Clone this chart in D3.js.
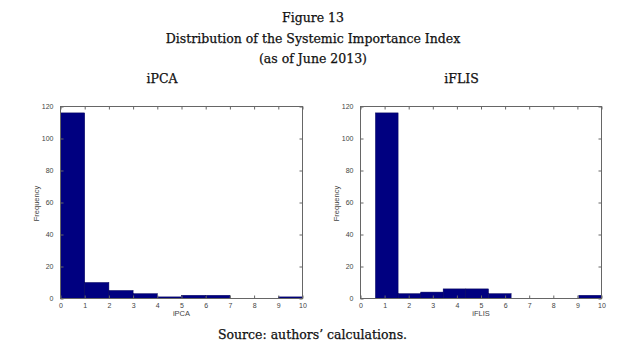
<!DOCTYPE html>
<html><head><meta charset="utf-8">
<script src="https://cdn.jsdelivr.net/npm/d3@7"></script>
<style>body{margin:0;background:#fff}svg{display:block}</style>
</head><body>
<svg id="c" width="635" height="355"></svg>
<script>
const titleLines = ["Figure 13", "Distribution of the Systemic Importance Index", "(as of June 2013)"];
const panelTitles = ["iPCA", "iFLIS"];
const xLabels = ["iPCA", "iFLIS"];
const yLabel = "Frequency";
const sourceText = "Source: authors\u2019 calculations.";
const xTicks = [0,1,2,3,4,5,6,7,8,9,10];
const yTicks = [0,20,40,60,80,100,120];

// iPCA histogram: bin starts, bin end, counts
const ipcaBinStarts = [0,1,2,3,4,5,6,7,8,9];
const ipcaBinEnd = 10;
const ipcaCounts = [116,10,5,3,1,2,2,0,0,1];

// iFLIS histogram
const iflisBinStarts = [0.62,1.56,2.50,3.43,4.37,5.31,6.25,7.19,8.12,9.06];
const iflisBinEnd = 10;
const iflisCounts = [116,3,4,6,6,3,0,0,0,2];

const svg = d3.select("#c");
const serif = "'DejaVu Serif', serif";
const sans = "'Liberation Sans', Arial, sans-serif";
const serifStyle = sel => sel.attr("font-family", serif).attr("font-size", 12.5)
  .attr("fill", "#111").attr("stroke", "#111").attr("stroke-width", 0.25);

svg.append("g").attr("text-anchor","middle").selectAll("text").data(titleLines).join("text")
  .attr("x", 313).attr("y", (d,i)=>22 + i*20.7).call(serifStyle).text(d=>d);

const panels = [
  {x0:60.5, x1:302.5, starts:ipcaBinStarts, end:ipcaBinEnd, counts:ipcaCounts, title:panelTitles[0], xl:xLabels[0], tx:162},
  {x0:360.5, x1:601.5, starts:iflisBinStarts, end:iflisBinEnd, counts:iflisCounts, title:panelTitles[1], xl:xLabels[1], tx:461.5}
];
const yTop = 106.5, yBot = 298.5;

panels.forEach(p => {
  const x = d3.scaleLinear().domain([0,10]).range([p.x0, p.x1]);
  const y = d3.scaleLinear().domain([0,120]).range([yBot, yTop]);
  const g = svg.append("g");
  const bins = p.counts.map((c,i)=>({a:p.starts[i], b: i+1<p.starts.length ? p.starts[i+1] : p.end, c}));
  g.selectAll("rect").data(bins.filter(d=>d.c>0)).join("rect")
    .attr("x", d=>x(d.a)).attr("width", d=>x(d.b)-x(d.a))
    .attr("y", d=>y(d.c)).attr("height", d=>y(0)-y(d.c))
    .attr("fill", "#000080").attr("stroke", "#00005a").attr("stroke-width", 0.5);

  const axCol = "#666";
  const ax = (axis, tx, ty) => {
    const a = g.append("g").attr("transform", `translate(${tx},${ty})`).call(axis);
    a.select(".domain").remove();
    a.selectAll("line").attr("stroke", axCol);
    a.selectAll("text").attr("font-family", sans).attr("font-size", 7).attr("fill", "#444");
    return a;
  };
  ax(d3.axisBottom(x).tickValues(xTicks).tickSizeInner(-3).tickPadding(5).tickFormat(d3.format("d")), 0, yBot);
  ax(d3.axisTop(x).tickValues(xTicks).tickSizeInner(-3).tickFormat(""), 0, yTop);
  ax(d3.axisLeft(y).tickValues(yTicks).tickSizeInner(-3).tickPadding(7).tickFormat(d3.format("d")), p.x0, 0);
  ax(d3.axisRight(y).tickValues(yTicks).tickSizeInner(-3).tickFormat(""), p.x1, 0);
  g.append("rect").attr("x", p.x0).attr("y", yTop).attr("width", p.x1-p.x0).attr("height", yBot-yTop)
    .attr("fill","none").attr("stroke", axCol).attr("stroke-width",1);

  g.append("text").attr("x", (p.x0+p.x1)/2).attr("y", 316).attr("text-anchor","middle")
    .attr("font-family", sans).attr("font-size", 7.5).attr("fill","#444").text(p.xl);
  g.append("text").attr("transform", `translate(${p.x0-22},${(yTop+yBot)/2+1}) rotate(-90)`)
    .attr("text-anchor","middle").attr("font-family", sans).attr("font-size", 7.5).attr("fill","#444").text(yLabel);
  svg.append("text").attr("x", p.tx).attr("y", 83).attr("text-anchor","middle")
    .call(serifStyle).text(p.title);
});

svg.append("text").attr("x", 312.5).attr("y", 339).attr("text-anchor","middle")
  .call(serifStyle).text(sourceText);
</script>
</body></html>
